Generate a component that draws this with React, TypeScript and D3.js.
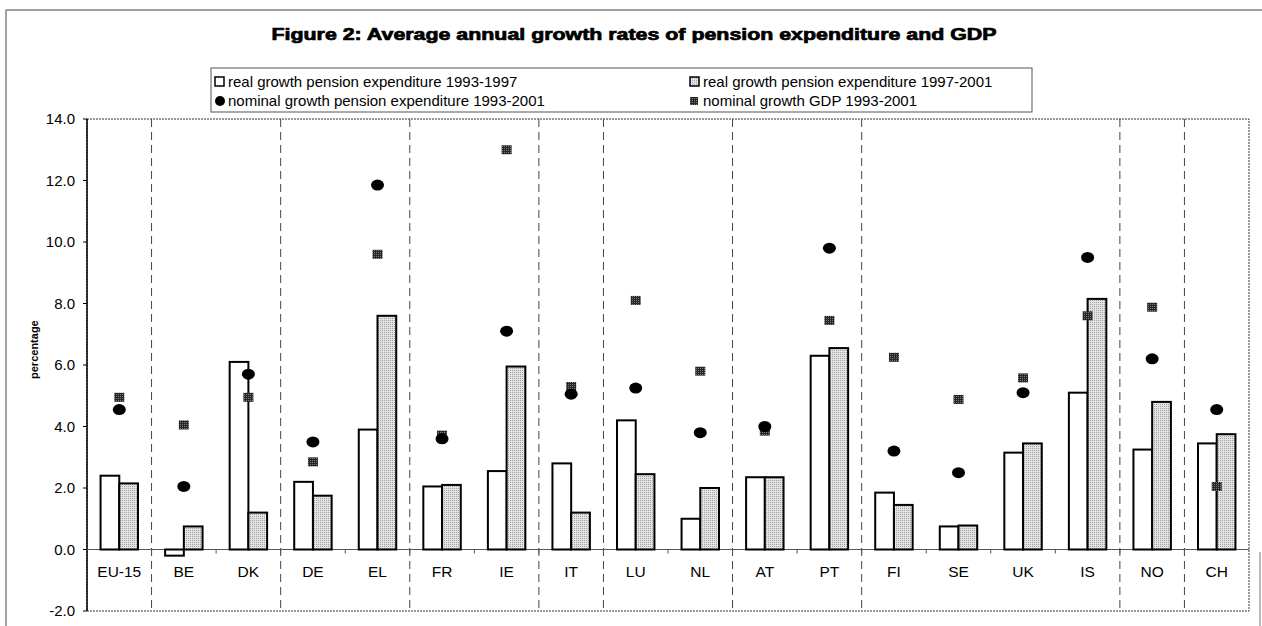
import React from "react";
import * as d3 from "d3";

const categories = ["EU-15","BE","DK","DE","EL","FR","IE","IT","LU","NL","AT","PT","FI","SE","UK","IS","NO","CH"];
const realGrowth9397 = [2.4,-0.2,6.1,2.2,3.9,2.05,2.55,2.8,4.2,1.0,2.35,6.3,1.85,0.75,3.15,5.1,3.25,3.45];
const realGrowth9701 = [2.15,0.75,1.2,1.75,7.6,2.1,5.95,1.2,2.45,2.0,2.35,6.55,1.45,0.78,3.45,8.15,4.8,3.75];
const nominalPension = [4.55,2.05,5.7,3.5,11.85,3.6,7.1,5.05,5.25,3.8,4.0,9.8,3.2,2.5,5.1,9.5,6.2,4.55];
const nominalGDP = [4.95,4.05,4.95,2.85,9.6,3.72,13.0,5.3,8.1,5.8,3.85,7.45,6.25,4.88,5.58,7.6,7.88,2.05];
const yTicks = [-2,0,2,4,6,8,10,12,14];
const separatorsAfter = ["EU-15","DK","EL","IE","IT","NL","PT","IS","NO"];
const legendLabels = [
  "real growth pension expenditure 1993-1997",
  "real growth pension expenditure 1997-2001",
  "nominal growth pension expenditure 1993-2001",
  "nominal growth GDP 1993-2001",
];
const titleText = "Figure 2: Average annual growth rates of pension expenditure and GDP";

const W = 1262, H = 626;
const PL = 87, PR = 1249, PT = 119, PB = 611;
const FONT = "'Liberation Sans', Arial, sans-serif";

export default function App() {
  const x = d3.scaleBand<string>().domain(categories).range([PL, PR]).padding(0);
  const step = x.step();
  const sub = d3.scaleBand<string>().domain(["a","b"]).range([step*0.21, step*0.79]).padding(0);
  const y = d3.scaleLinear().domain([-2, 14]).range([PB, PT]);
  const y0 = y(0);
  const bw = sub.bandwidth();

  return (
    <svg width={W} height={H} style={{position:"absolute", left:0, top:0, background:"#fff"}} fontFamily={FONT}>
      <defs>
        <pattern id="greyDots" width="2" height="2" patternUnits="userSpaceOnUse">
          <rect width="2" height="2" fill="#e4e4e4" />
          <rect width="1" height="1" fill="#a0a0a0" />
        </pattern>
        <pattern id="sqDots" width="2" height="2" patternUnits="userSpaceOnUse">
          <rect width="2" height="2" fill="#262626" />
          <rect width="1" height="1" fill="#7a7a7a" />
        </pattern>
      </defs>
      {/* outer frame */}
      <line x1={6} x2={6} y1={10} y2={H} stroke="#444" strokeWidth={1} />
      <line x1={6} x2={W} y1={10} y2={10} stroke="#444" strokeWidth={1} />
      <line x1={1260} x2={1260} y1={552} y2={H} stroke="#777" strokeWidth={1} />

      {/* title */}
      <text x={634} y={40} textAnchor="middle" fontSize={16} fontWeight="bold"
        stroke="#000" strokeWidth={0.7} textLength={725} lengthAdjust="spacingAndGlyphs">{titleText}</text>

      {/* legend */}
      <rect x={211} y={68} width={821} height={44} fill="#fff" stroke="#555" strokeWidth={1} />
      <rect x={215} y={77} width={9} height={9} fill="#fff" stroke="#000" strokeWidth={1.5} />
      <text x={228} y={87} fontSize={15}>{legendLabels[0]}</text>
      <rect x={690} y={77} width={9} height={9} fill="url(#greyDots)" stroke="#000" strokeWidth={1.5} />
      <text x={703} y={87} fontSize={15}>{legendLabels[1]}</text>
      <ellipse cx={220} cy={101} rx={5} ry={5} fill="#000" />
      <text x={228} y={106} fontSize={15}>{legendLabels[2]}</text>
      <rect x={690} y={97} width={8} height={8} fill="url(#sqDots)" />
      <text x={703} y={106} fontSize={15}>{legendLabels[3]}</text>

      {/* plot border (dotted) */}
      <rect x={PL} y={PT} width={PR-PL} height={PB-PT} fill="none" stroke="#333" strokeWidth={1} strokeDasharray="2 1" />

      {/* separators */}
      {separatorsAfter.map(c => {
        const sx = (x(c) as number) + step;
        return <line key={c} x1={sx} x2={sx} y1={PT} y2={PB} stroke="#444" strokeWidth={1} strokeDasharray="8 5" />;
      })}

      {/* y axis */}
      <line x1={PL} x2={PL} y1={PT} y2={PB} stroke="#000" strokeWidth={1.5} />
      {yTicks.map(t => (
        <g key={t}>
          <line x1={PL-4} x2={PL} y1={y(t)} y2={y(t)} stroke="#000" strokeWidth={1} />
          <text x={75} y={y(t)+5} textAnchor="end" fontSize={15}>{t.toFixed(1)}</text>
        </g>
      ))}
      <text transform={`translate(38,${y(6.5)}) rotate(-90)`} textAnchor="middle" fontSize={11} fontWeight="bold">percentage</text>

      {/* zero line */}
      <line x1={PL} x2={PR} y1={y0} y2={y0} stroke="#555" strokeWidth={1} />
      {categories.map((c, i) => i > 0 ? (
        <line key={"t"+c} x1={x(c)} x2={x(c)} y1={y0} y2={y0+4} stroke="#555" strokeWidth={1} />
      ) : null)}

      {/* bars */}
      {categories.map((c, i) => {
        const cx = x(c) as number;
        const v1 = realGrowth9397[i], v2 = realGrowth9701[i];
        return (
          <g key={"b"+c}>
            <rect x={cx + (sub("a") as number)} y={Math.min(y(v1), y0)} width={bw} height={Math.abs(y(v1)-y0)}
              fill="#fff" stroke="#000" strokeWidth={2} />
            <rect x={cx + (sub("b") as number)} y={Math.min(y(v2), y0)} width={bw} height={Math.abs(y(v2)-y0)}
              fill="url(#greyDots)" stroke="#000" strokeWidth={2} />
          </g>
        );
      })}

      {/* markers */}
      {categories.map((c, i) => {
        const cx = (x(c) as number) + step/2;
        return (
          <g key={"m"+c}>
            <rect x={cx-5} y={y(nominalGDP[i])-4.5} width={10} height={9} fill="url(#sqDots)" />
            <ellipse cx={cx} cy={y(nominalPension[i])} rx={6.5} ry={5.5} fill="#000" />
          </g>
        );
      })}

      {/* category labels */}
      {categories.map(c => (
        <text key={"l"+c} x={(x(c) as number) + step/2} y={y0+27} textAnchor="middle" fontSize={15.5}>{c}</text>
      ))}
    </svg>
  );
}
